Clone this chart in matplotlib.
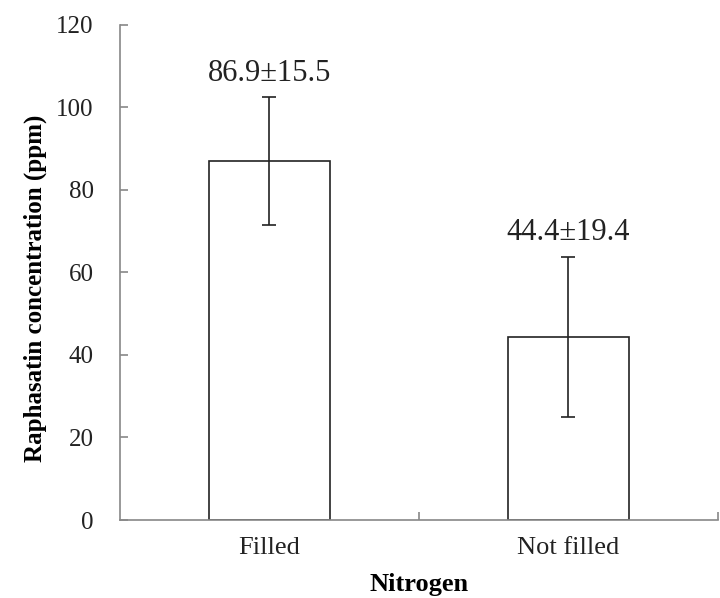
import numpy as np
import matplotlib.pyplot as plt

# bar data
groups = ['Filled', 'Not filled']
means = [86.9, 44.4]
errs = [15.5, 19.4]
labels = ['86.9\u00b115.5', '44.4\u00b119.4']

plt.rcParams['font.family'] = ['Liberation Serif', 'DejaVu Serif']

fig = plt.figure(figsize=(7.2, 5.98), dpi=100)
ax = fig.add_axes([0.1667, 0.1304, 0.83, 0.828])

x = np.arange(len(groups))
ax.bar(x, means, width=0.405, color='white', edgecolor='#222222', linewidth=1.2)
ax.errorbar(x, means, yerr=errs, fmt='none', ecolor='#222222',
            elinewidth=1.2, capsize=5, capthick=1.2)

for xi, m, e, lab in zip(x, means, errs, labels):
    ax.text(xi, m + e + 2.3, lab, ha='center', va='bottom', fontsize=22, color='#222222')

ax.set_xlim(-0.5, 1.5)
ax.set_ylim(0, 120)
ax.set_yticks(np.arange(0, 121, 20))
ax.set_xticks(x)
ax.set_xticklabels(groups)
ax.set_xticks([0.5, 1.5], minor=True)

for s in ['top', 'right']:
    ax.spines[s].set_visible(False)
for s in ['left', 'bottom']:
    ax.spines[s].set_color('#888888')
    ax.spines[s].set_linewidth(1.2)

ax.tick_params(axis='y', direction='in', length=6, color='#888888', width=1.2,
               labelsize=18, pad=19, labelcolor='#222222')
ax.tick_params(axis='x', which='major', length=0, labelsize=19, pad=12, labelcolor='#222222')
ax.tick_params(axis='x', which='minor', direction='in', length=6, color='#888888', width=1.2)

ax.set_ylabel('Raphasatin concentration (ppm)', fontsize=18, fontweight='bold')
ax.yaxis.set_label_coords(-0.123, 0.468)
ax.set_xlabel('Nitrogen', fontsize=19, fontweight='bold', labelpad=10)

plt.savefig('out.png', dpi=100)
